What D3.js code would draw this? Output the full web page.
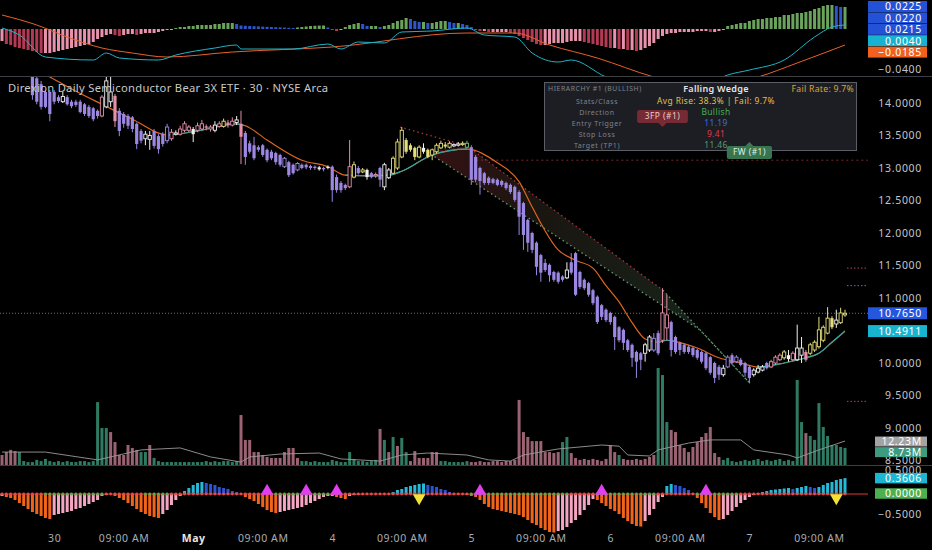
<!DOCTYPE html>
<html><head><meta charset="utf-8">
<script src="https://cdn.jsdelivr.net/npm/d3@7"></script>
<style>
html,body{margin:0;background:#000;}
svg{display:block;font-family:"Noto Sans",Roboto,sans-serif;}
</style></head><body>
<svg id="c" width="932" height="550"></svg>
<script>
// ---------- DATA ----------
const title = "Direxion Daily Semiconductor Bear 3X ETF · 30 · NYSE Arca";
const tickIdx = [12,28,44,60,76,92,108,124,140,156,172,188];
const tickLabels = ["30","09:00 AM","May","09:00 AM","4","09:00 AM","5","09:00 AM","6","09:00 AM","7","09:00 AM"];
const priceTicks = [14,13.5,13,12.5,12,11.5,11,10,9.5,9,8.5];

const opens = [14.62,14.58,14.60,14.52,14.56,14.50,14.54,14.46,14.38,14.29,
14.17,14.17,14.17,14.09,14.02,14.09,14.02,14.02,14.02,13.98,
13.94,13.92,13.88,13.80,13.94,14.02,14.11,13.88,13.83,13.80,
13.78,13.68,13.57,13.45,13.44,13.57,13.49,13.52,13.42,13.45,
13.52,13.52,13.58,13.58,13.60,13.58,13.60,13.64,13.60,13.58,
13.64,13.64,13.70,13.66,13.70,13.68,13.54,13.38,13.35,13.32,
13.35,13.28,13.25,13.23,13.20,13.02,13.09,13.05,12.97,13.05,
13.05,13.03,13.02,13.01,13.00,13.02,13.02,12.86,12.77,12.74,
12.71,12.86,13.00,12.94,12.97,12.92,12.88,13.00,12.71,12.85,
12.92,13.00,13.17,13.43,13.35,13.31,13.17,13.31,13.28,13.20,
13.25,13.31,13.36,13.32,13.34,13.35,13.36,13.32,13.32,13.17,
13.00,12.92,12.85,12.83,12.82,12.80,12.77,12.74,12.71,12.63,
12.46,12.20,12.00,11.85,11.66,11.54,11.51,11.40,11.39,11.33,
11.31,11.55,11.69,11.40,11.28,11.23,11.12,11.02,10.89,10.82,
10.77,10.71,10.55,10.51,10.35,10.28,10.17,10.15,10.15,10.20,
10.20,10.46,10.35,10.54,10.63,10.40,10.31,10.28,10.25,10.23,
10.20,10.17,10.15,10.09,10.00,9.94,9.82,9.94,10.12,10.02,
10.05,10.00,9.94,9.82,9.86,9.89,10.00,9.94,10.00,10.05,
10.08,10.12,10.05,10.05,10.12,10.17,10.15,10.20,10.25,10.35,
10.46,10.69,10.60,10.62,10.74];
const highs = [14.70,14.66,14.66,14.62,14.64,14.58,14.58,14.50,14.44,14.34,
14.20,14.20,14.20,14.12,14.17,14.12,14.05,14.05,14.05,14.00,
13.97,13.94,13.90,14.12,14.40,14.40,14.14,13.92,13.86,13.83,
13.80,13.70,13.60,13.57,13.57,13.60,13.52,13.55,13.68,13.60,
13.58,13.65,13.72,13.66,13.63,13.70,13.74,13.67,13.66,13.72,
13.72,13.76,13.74,13.78,13.80,13.88,13.57,13.42,13.48,13.35,
13.37,13.30,13.28,13.25,13.22,13.17,13.11,13.07,13.09,13.07,
13.07,13.05,13.04,13.03,13.02,13.04,13.04,12.90,12.80,12.76,
13.43,13.10,13.03,13.00,12.99,12.94,12.93,13.02,13.08,13.00,
13.18,13.45,13.63,13.46,13.38,13.33,13.35,13.38,13.30,13.30,
13.38,13.42,13.40,13.41,13.38,13.40,13.41,13.42,13.35,13.20,
13.02,12.94,12.87,12.85,12.84,12.82,12.79,12.76,12.73,12.66,
12.48,12.22,12.02,11.87,11.68,11.60,11.53,11.42,11.41,11.35,
11.55,11.69,11.71,11.42,11.30,11.25,11.14,11.04,10.91,10.84,
10.79,10.73,10.57,10.53,10.37,10.30,10.19,10.17,10.31,10.43,
10.46,10.50,11.15,11.05,10.65,10.42,10.33,10.30,10.27,10.25,
10.22,10.19,10.17,10.11,10.02,9.97,9.97,10.12,10.15,10.12,
10.08,10.02,9.97,9.92,9.97,9.97,10.02,10.05,10.12,10.15,
10.20,10.20,10.18,10.59,10.40,10.20,10.31,10.35,10.71,10.58,
10.86,10.72,10.82,10.85,10.82];
const lows = [14.55,14.50,14.44,14.42,14.43,14.46,14.44,14.05,13.98,13.90,
13.92,13.72,13.98,14.00,14.00,13.96,13.92,13.94,13.84,13.80,
13.77,13.72,13.76,13.78,13.92,13.94,13.63,13.49,13.62,13.60,
13.55,13.29,13.38,13.35,13.28,13.30,13.22,13.33,13.38,13.42,
13.50,13.50,13.55,13.55,13.40,13.55,13.58,13.58,13.56,13.55,
13.62,13.62,13.62,13.64,13.66,13.06,13.05,13.22,13.12,13.25,
13.17,13.09,13.12,13.05,13.02,13.00,12.86,12.90,12.95,12.98,
12.98,12.97,12.97,12.96,12.95,12.98,12.48,12.62,12.62,12.66,
12.69,12.84,12.90,12.92,12.82,12.84,12.85,12.71,12.66,12.83,
12.90,12.97,13.15,13.22,13.25,13.12,13.15,13.22,13.15,13.12,
13.22,13.29,13.30,13.30,13.32,13.33,13.34,13.30,12.74,12.78,
12.59,12.74,12.74,12.75,12.72,12.71,12.66,12.60,12.48,11.97,
11.74,11.71,11.69,11.35,11.25,11.40,11.25,11.25,11.22,11.25,
11.29,11.36,11.03,11.14,11.12,11.02,10.89,10.60,10.66,10.63,
10.59,10.20,10.32,10.20,10.17,9.94,9.77,9.89,10.02,10.17,
10.17,10.12,10.31,10.35,10.10,10.14,10.12,10.14,10.14,10.09,
10.05,9.99,9.89,9.82,9.69,9.74,9.79,9.92,9.97,10.00,
9.95,9.79,9.69,9.79,9.84,9.87,9.90,9.92,9.97,10.03,
10.05,10.02,10.03,10.03,10.00,10.02,10.12,10.17,10.22,10.32,
10.44,10.52,10.54,10.60,10.71];
const closes = [14.58,14.60,14.52,14.56,14.50,14.54,14.48,14.12,14.02,13.94,
13.94,13.83,14.02,14.03,14.10,13.98,13.95,13.97,13.86,13.83,
13.80,13.75,13.80,14.09,14.34,14.17,13.72,13.57,13.68,13.65,
13.60,13.37,13.42,13.52,13.50,13.34,13.29,13.37,13.63,13.55,
13.54,13.60,13.68,13.63,13.52,13.65,13.68,13.62,13.63,13.66,
13.68,13.72,13.66,13.72,13.74,13.48,13.17,13.25,13.15,13.28,
13.20,13.12,13.15,13.09,13.05,13.15,12.89,12.92,13.07,13.00,
13.01,13.00,13.00,12.98,12.98,13.00,12.66,12.66,12.66,12.69,
13.02,13.05,12.92,12.97,12.86,12.86,12.90,12.82,13.05,12.97,
13.15,13.40,13.58,13.25,13.28,13.17,13.32,13.25,13.17,13.28,
13.35,13.38,13.33,13.38,13.36,13.37,13.38,13.38,12.82,12.82,
12.80,12.77,12.77,12.77,12.74,12.74,12.69,12.63,12.51,12.25,
11.97,11.85,11.74,11.48,11.39,11.43,11.35,11.28,11.25,11.28,
11.43,11.39,11.05,11.17,11.15,11.05,10.92,10.63,10.71,10.66,
10.63,10.40,10.35,10.31,10.20,10.08,10.02,10.05,10.28,10.40,
10.38,10.15,10.77,10.74,10.20,10.17,10.20,10.17,10.17,10.12,
10.08,10.02,9.92,9.85,9.77,9.82,9.92,10.09,10.00,10.09,
9.97,9.85,9.77,9.89,9.92,9.94,9.92,10.02,10.09,10.12,
10.17,10.06,10.15,10.23,10.23,10.05,10.28,10.32,10.51,10.55,
10.69,10.55,10.66,10.77,10.765];
// candle tone: P purple, Y yellow, K pink, W white, G green
const candleTone = ("P".repeat(14)+"W"+"P".repeat(8)+"K"+"WW"+"K"+"P".repeat(6)+"WW"+"PPPP"+"KWKKKW"+"KKKK"+"WKYKKW"+"K"+
  "P".repeat(17)+"WPW"+"PPPP"+"KYPYWPKPWW"+"YYYYYYY"+"W"+"YYYYYY"+"WWYG"+"P".repeat(22)+"W"+"P".repeat(17)+
  "WWPPKK"+"P".repeat(12)+"W"+"PPPPPP"+"WWW"+"PKKKYWKWWK"+"YYYYYY"+"WYY").split("");

// trend line (price) with bullish ranges
const trendPts = [[0,14.80],[11,14.40],[17,14.18],[23,13.98],[30,13.75],[38,13.51],[45,13.57],[54,13.68],[56,13.65],[61,13.43],[69,13.12],[75,13.02],[79,12.89],[85,12.88],[89,12.89],[92,12.95],[99,13.20],[107,13.29],[114,13.08],[119,12.79],[122,12.40],[128,11.74],[132,11.58],[136,11.46],[139,11.19],[142,10.94],[145,10.62],[148,10.37],[151,10.32],[153,10.35],[155,10.33],[160,10.23],[165,10.08],[170,10.00],[174,9.94],[180,10.00],[185,10.08],[188,10.15],[191,10.32],[194,10.4911]];
const bullRanges = [[38,56],[79,107],[151,155],[174,194]];

// volume (millions) and colour flag
const volume = [5.1,6.6,7.7,7.1,6.6,2.0,1.5,1.5,2.6,2.0,
3.1,2.0,1.5,2.0,1.5,2.0,1.5,1.5,2.0,2.0,
1.5,2.0,32.1,18.9,18.9,16.8,11.7,5.1,5.1,10.2,
8.7,7.7,6.6,6.6,10.2,3.6,2.0,1.5,1.5,1.5,
1.5,1.5,1.5,1.5,1.5,1.5,1.5,2.0,1.5,2.0,
1.5,2.0,2.0,1.5,2.0,25.5,12.8,12.8,6.6,6.6,
5.1,4.1,3.6,3.6,3.6,6.6,8.7,8.7,3.6,2.0,
2.0,1.5,2.0,1.5,1.5,1.5,2.6,2.0,1.5,1.5,
6.6,3.1,2.0,2.0,1.5,2.0,2.6,18.4,12.8,6.6,
14.3,9.7,13.8,6.6,2.0,7.1,3.6,3.6,3.6,6.6,
6.6,2.0,2.0,1.5,1.5,1.5,1.5,2.0,1.5,1.5,
2.0,1.5,1.5,2.0,2.0,1.5,2.0,2.0,2.6,33.2,
16.8,14.3,12.2,12.2,12.2,6.6,6.6,6.1,6.6,11.7,
14.3,6.1,3.6,2.6,3.1,2.6,3.1,2.6,2.0,3.1,
10.2,6.6,5.1,3.1,2.6,2.6,3.1,2.6,3.1,4.1,
5.1,49.5,45.9,21.9,17.9,16.8,10.2,8.7,6.6,9.2,
11.7,14.3,16.3,19.4,6.1,4.1,2.6,3.6,2.0,1.5,
2.0,2.6,2.0,2.6,3.1,2.0,2.6,2.0,2.6,3.1,
2.0,2.6,2.0,43.4,21.9,16.3,14.8,12.8,31.6,19.4,
14.8,10.2,10.2,9.2,8.73];
const volTone = ("rrrr"+"g"+"g".repeat(17)+"ggg"+"r".repeat(7)+"gg"+"r"+"g".repeat(20)+"r".repeat(14)+"g".repeat(18)+
  "rgrgr"+"gg"+"r".repeat(7)+"g".repeat(7)+"r".repeat(21)+"gg"+"r".repeat(11)+"g"+"r".repeat(8)+"ggg"+"r".repeat(12)+
  "g".repeat(19)+"r"+"g".repeat(9)).split("");
const volMA = [[0,6.6],[10,6.6],[22,2.6],[32,7.7],[41,8.7],[48,4.1],[55,1.5],[57,4.1],[64,5.6],[73,6.1],[78,3.1],[87,2.0],[92,5.1],[98,6.1],[107,5.1],[112,2.6],[117,2.0],[120,5.1],[128,8.2],[138,10.2],[142,9.6],[144,5.1],[149,4.6],[151,7.7],[158,11.2],[163,12.8],[170,12.8],[173,7.7],[181,5.1],[183,3.6],[188,7.7],[194,12.23]];

// top pane: histogram, macd, signal
const macdHist = [-0.012,-0.015,-0.016,-0.018,-0.019,-0.020,-0.021,-0.022,-0.023,-0.024,
-0.024,-0.024,-0.023,-0.022,-0.021,-0.020,-0.019,-0.018,-0.017,-0.016,
-0.015,-0.013,-0.010,-0.008,-0.006,-0.005,-0.006,-0.007,-0.006,-0.005,
-0.005,-0.006,-0.005,-0.004,-0.004,-0.004,-0.003,-0.002,-0.001,-0.001,
0.001,0.002,0.002,0.003,0.003,0.004,0.004,0.004,0.004,0.005,
0.005,0.006,0.006,0.006,0.005,0.0035,0.0032,0.0030,0.0028,0.0026,
0.0024,0.0022,0.0020,0.0018,0.0016,0.0014,0.0012,0.0010,0.0015,0.002,
0.0025,0.003,0.0032,0.0034,0.0035,0.0015,-0.001,-0.002,-0.001,0.002,
0.004,0.005,0.006,0.005,0.003,0.003,0.003,0.002,0.003,0.004,
0.006,0.008,0.009,0.011,0.010,0.008,0.007,0.007,0.006,0.006,
0.007,0.008,0.008,0.007,0.006,0.006,0.005,0.004,0.002,-0.001,
-0.002,-0.002,-0.003,-0.003,-0.003,-0.003,-0.003,-0.004,-0.005,-0.007,
-0.009,-0.011,-0.013,-0.015,-0.016,-0.016,-0.015,-0.014,-0.014,-0.014,
-0.013,-0.012,-0.012,-0.012,-0.013,-0.014,-0.015,-0.016,-0.017,-0.018,
-0.019,-0.019,-0.020,-0.020,-0.021,-0.021,-0.022,-0.021,-0.019,-0.017,
-0.014,-0.010,-0.007,-0.005,-0.004,-0.004,-0.003,-0.003,-0.003,-0.003,
-0.002,-0.002,-0.002,-0.003,-0.003,-0.002,-0.001,0.003,0.004,0.005,
0.006,0.006,0.008,0.009,0.010,0.010,0.011,0.011,0.012,0.012,
0.014,0.014,0.015,0.016,0.016,0.017,0.018,0.020,0.021,0.023,
0.024,0.024,0.023,0.022,0.022];
const macdLine = [[0,0.001],[4,-0.006],[10,-0.028],[21,-0.031],[24,-0.024],[27,-0.029],[36,-0.031],[40,-0.026],[49,-0.019],[54,-0.016],[55,-0.020],[67,-0.020],[75,-0.015],[78,-0.020],[82,-0.013],[88,-0.014],[92,-0.003],[99,-0.002],[107,0.001],[111,-0.006],[118,-0.008],[122,-0.024],[128,-0.033],[131,-0.031],[139,-0.048],[147,-0.059],[156,-0.061],[163,-0.053],[167,-0.046],[172,-0.041],[180,-0.031],[187,-0.008],[191,0.002],[194,0.004]];
const signalLine = [[0,0.014],[8,0.004],[15,-0.008],[23,-0.019],[30,-0.024],[38,-0.028],[53,-0.023],[76,-0.018],[107,-0.004],[118,-0.004],[126,-0.016],[137,-0.029],[150,-0.048],[161,-0.059],[174,-0.048],[183,-0.034],[194,-0.016]];
const topTags = [["0.0225","#2452d6"],["0.0220","#2452d6"],["0.0215","#2452d6"],["0.0040","#17b2cf"],["−0.0185","#f0601e"]];
const topTagVals = [0.0225,0.0220,0.0215,0.0040,-0.0185];

// bottom oscillator
const osc = [-0.045,-0.068,-0.091,-0.136,-0.205,-0.273,-0.341,-0.409,-0.455,-0.5,
-0.545,-0.568,-0.477,-0.455,-0.432,-0.409,-0.386,-0.341,-0.318,-0.273,
-0.227,-0.182,-0.136,-0.045,-0.023,0,-0.045,-0.091,-0.136,-0.205,
-0.273,-0.341,-0.409,-0.455,-0.5,-0.523,-0.545,-0.455,-0.364,-0.25,
-0.136,-0.045,0.068,0.136,0.205,0.25,0.273,0.25,0.227,0.205,
0.159,0.136,0.114,0.068,0.045,0,-0.068,-0.114,-0.159,-0.227,
-0.295,-0.364,-0.409,-0.432,-0.409,-0.386,-0.364,-0.341,-0.318,-0.295,
-0.25,-0.205,-0.159,-0.114,-0.068,-0.045,-0.045,-0.068,-0.091,-0.114,
-0.045,-0.023,-0.011,-0.007,0,0,0,0,0,0,
0.045,0.091,0.114,0.159,0.182,0.205,0.227,0.239,0.205,0.182,
0.159,0.114,0.091,0.045,0.023,0,0,-0.023,-0.045,-0.068,
-0.136,-0.227,-0.295,-0.341,-0.364,-0.386,-0.409,-0.432,-0.455,-0.477,
-0.523,-0.591,-0.659,-0.705,-0.773,-0.818,-0.864,-0.875,-0.841,-0.818,
-0.75,-0.659,-0.591,-0.477,-0.364,-0.25,-0.114,-0.136,-0.205,-0.273,
-0.341,-0.386,-0.455,-0.545,-0.614,-0.682,-0.727,-0.739,-0.614,-0.477,
-0.341,-0.182,-0.068,0.182,0.227,0.205,0.182,0.136,0.091,0.023,
-0.091,-0.205,-0.318,-0.432,-0.523,-0.591,-0.568,-0.477,-0.386,-0.295,
-0.205,-0.136,-0.068,-0.023,0.023,0.045,0.068,0.091,0.102,0.114,
0.125,0.136,0.114,0.136,0.159,0.182,0.159,0.136,0.159,0.205,
0.25,0.273,0.318,0.341,0.3606];
const squeezeRanges = [[10,23],[33,38],[63,75],[108,130],[137,150],[160,169]];
const upSignals = [61,70,77,110,138,162];
const downSignals = [96,192];
const oscTicks = [0.5,-0.5];

// pattern
const wedgeUpperA = [[91.6,13.63],[107,13.34]];
const wedgeUpper = [[107,13.34],[152.1,11.12]];
const wedgeUpperB = [[152.1,11.12],[172.1,9.69]];
const wedgeLower = [[97.8,13.25],[160.6,10.51],[172.1,9.69]];
const stopLevelLine = {from:108, price:13.12};
const levels = [["target",11.46,"#b0475a"],["entry",11.19,"#5d74b5"],["stop",9.41,"#c43a4e"]];
const lastPrice = 10.765, trendLast = 10.4911;
const volMALast = 12.23, volLast = 8.73, oscLast = 0.3606;
const patternTags = [{text:"3FP (#1)", i:152, price:13.63, dir:"down", bg:"#7a2b36", fg:"#f1c9cf"},
                     {text:"FW (#1)", i:172, price:13.40, dir:"up", bg:"#3c7a55", fg:"#d8f2e2"}];
const tableHeader = ["HIERARCHY #1 (BULLISH)","Falling Wedge","Fail Rate: 9.7%"];
const tableRows = [["Stats/Class","Avg Rise: 38.3% | Fail: 9.7%","#e3c14a"],["Direction","Bullish","#4caf50"],["Entry Trigger","11.19","#3f6ee0"],["Stop Loss","9.41","#e2374f"],["Target (TP1)","11.46","#5a9c6c"]];

// ---------- DRAW ----------
const W=932,H=550,PR=868;
const svg=d3.select("#c");
svg.append("rect").attr("width",W).attr("height",H).attr("fill","#000");
const x=d3.scaleLinear().domain([0,194]).range([2,845]);
const yP=d3.scaleLinear().domain([9,14]).range([428,103]);
const yV=d3.scaleLinear().domain([0,10]).range([465,445.4]);
const yT=d3.scaleLinear().domain([0,-0.04]).range([29,69]);
const yO=d3.scaleLinear().domain([0,-0.5]).range([494,516]);
const defs=svg.append("defs");
function clip(id,y0,y1,w){defs.append("clipPath").attr("id",id).append("rect").attr("x",0).attr("y",y0).attr("width",w||PR).attr("height",y1-y0);}
clip("cTop",0,76);clip("cMain",77,465);clip("cBot",466,536);clip("cAxM",77,465,W);
const toneCol={P:"#9c87e2",Y:"#e4de7a",K:"#e58ea7",W:"#f0f0f0",G:"#6cbf73"};
const N=closes.length;
const idx=d3.range(N);

// ---- top pane
const gT=svg.append("g").attr("clip-path","url(#cTop)");
gT.selectAll("rect.h").data(idx).join("rect")
 .attr("x",i=>x(i)-1.5).attr("width",3)
 .attr("y",i=>Math.min(yT(macdHist[i]),yT(0))).attr("height",i=>Math.max(0.6,Math.abs(yT(macdHist[i])-yT(0))))
 .attr("fill",i=>{const v=macdHist[i],p=i>0?macdHist[i-1]:v; if(v>=0) return v>=p?"#6aa35c":"#2f56c8"; return v<p?"#b23a55":"#e892ad";});
const lineT=d3.line().x(d=>x(d[0])).y(d=>yT(d[1])).curve(d3.curveMonotoneX);
gT.append("path").attr("d",lineT(signalLine)).attr("fill","none").attr("stroke","#e8622a").attr("stroke-width",1);
gT.append("path").attr("d",lineT(macdLine)).attr("fill","none").attr("stroke","#1fb3c8").attr("stroke-width",1);

// ---- main pane
const gM=svg.append("g").attr("clip-path","url(#cMain)");
const grad=defs.append("linearGradient").attr("id","wg").attr("gradientUnits","userSpaceOnUse")
 .attr("x1",x(98)).attr("x2",x(172)).attr("y1",0).attr("y2",0);
grad.append("stop").attr("offset","0").attr("stop-color","rgba(130,40,45,0.42)");
grad.append("stop").attr("offset","0.35").attr("stop-color","rgba(70,60,45,0.36)");
grad.append("stop").attr("offset","1").attr("stop-color","rgba(55,95,70,0.42)");
const band=[...wedgeUpper, wedgeUpperB[1], ...wedgeLower.slice(0,2).reverse()];
gM.append("path").attr("d",d3.line().x(d=>x(d[0])).y(d=>yP(d[1]))(band)+"Z").attr("fill","url(#wg)");
const lineP=d3.line().x(d=>x(d[0])).y(d=>yP(d[1]));
gM.append("path").attr("d",lineP(wedgeUpperA)).attr("stroke","#a8323f").attr("stroke-width",1.3).attr("stroke-dasharray","1.5,3").attr("fill","none");
gM.append("path").attr("d",lineP(wedgeUpper)).attr("stroke","#a8323f").attr("stroke-width",1.3).attr("stroke-dasharray","1.5,3").attr("fill","none");
gM.append("path").attr("d",lineP(wedgeUpperB)).attr("stroke","#5f9c6e").attr("stroke-width",1.3).attr("stroke-dasharray","1.5,3").attr("fill","none");
gM.append("path").attr("d",lineP(wedgeLower)).attr("stroke","#5f9c6e").attr("stroke-width",1.3).attr("stroke-dasharray","1.5,3").attr("fill","none");
gM.append("line").attr("x1",x(stopLevelLine.from)).attr("x2",PR).attr("y1",yP(stopLevelLine.price)).attr("y2",yP(stopLevelLine.price))
 .attr("stroke","#7d2632").attr("stroke-dasharray","2,3");
gM.append("line").attr("x1",0).attr("x2",PR).attr("y1",yP(lastPrice)).attr("y2",yP(lastPrice))
 .attr("stroke","#8a8e96").attr("stroke-width",0.8).attr("stroke-dasharray","1,2");
levels.forEach(l=>gM.append("line").attr("x1",x(194)+2).attr("x2",PR).attr("y1",yP(l[1])).attr("y2",yP(l[1]))
 .attr("stroke",l[2]).attr("stroke-dasharray","1.5,2"));
// volume
gM.selectAll("rect.v").data(idx).join("rect")
 .attr("x",i=>x(i)-1.5).attr("width",3).attr("y",i=>yV(volume[i])).attr("height",i=>yV(0)-yV(volume[i]))
 .attr("fill",i=>volTone[i]==="g"?"#2f7a62":"#9a6273");
gM.append("path").attr("d",d3.line().x(d=>x(d[0])).y(d=>yV(d[1]))(volMA)).attr("fill","none").attr("stroke","#9a9a9a").attr("stroke-width",0.9);
// trend line
const trendPath=d3.line().x(d=>x(d[0])).y(d=>yP(d[1])).curve(d3.curveMonotoneX)(trendPts);
gM.append("path").attr("d",trendPath).attr("fill","none").attr("stroke","#e0661f").attr("stroke-width",1.2);
bullRanges.forEach((r,k)=>{
  defs.append("clipPath").attr("id","br"+k).append("rect").attr("x",x(r[0])).attr("width",x(r[1])-x(r[0])).attr("y",0).attr("height",H);
  gM.append("g").attr("clip-path","url(#br"+k+")").append("path").attr("d",trendPath).attr("fill","none").attr("stroke","#20a7a8").attr("stroke-width",1.2);
});
// candles
const gc=gM.selectAll("g.cd").data(idx).join("g");
gc.append("line").attr("x1",i=>x(i)).attr("x2",i=>x(i)).attr("y1",i=>yP(highs[i])).attr("y2",i=>yP(lows[i]))
 .attr("stroke",i=>toneCol[candleTone[i]]).attr("stroke-width",1);
gc.append("rect").attr("x",i=>x(i)-1.6).attr("width",3.2)
 .attr("y",i=>yP(Math.max(opens[i],closes[i]))).attr("height",i=>Math.max(1,Math.abs(yP(opens[i])-yP(closes[i]))))
 .attr("fill",i=>closes[i]>opens[i]?"#000":toneCol[candleTone[i]])
 .attr("stroke",i=>closes[i]>opens[i]?toneCol[candleTone[i]]:"none").attr("stroke-width",0.9);

// title
svg.append("text").attr("x",8).attr("y",92).text(title).attr("fill","#c9c9c9").attr("font-size",11.2).attr("letter-spacing",0.3);

// info table
const tb=svg.append("g");
tb.append("rect").attr("x",544.5).attr("y",82.5).attr("width",312).attr("height",68).attr("fill","rgba(30,32,38,0.93)").attr("stroke","#5b5e66");
tb.append("text").attr("x",548).attr("y",91).text(tableHeader[0]).attr("fill","#7f828b").attr("font-size",6.8).attr("letter-spacing",0.6);
tb.append("text").attr("x",716).attr("y",91.5).attr("text-anchor","middle").text(tableHeader[1]).attr("fill","#e6e6e6").attr("font-size",9).attr("font-weight",600).attr("letter-spacing",0.3);
tb.append("text").attr("x",854).attr("y",91.5).attr("text-anchor","end").text(tableHeader[2]).attr("fill","#e0a22c").attr("font-size",8.6).attr("letter-spacing",0.3);
tableRows.forEach((r,k)=>{
  const yy=103.5+k*11.2;
  tb.append("text").attr("x",597).attr("y",yy).attr("text-anchor","middle").text(r[0]).attr("fill","#80838c").attr("font-size",7).attr("letter-spacing",0.6);
  tb.append("text").attr("x",716).attr("y",yy).attr("text-anchor","middle").text(r[1]).attr("fill",r[2]).attr("font-size",8.4).attr("letter-spacing",0.4);
});
// pattern tags
patternTags.forEach(t=>{
  const cx=x(t.i), py=yP(t.price), w=t.text.length*5.6+6, h=13;
  const y0=t.dir==="down"? py-4-h : py+4;
  const g=svg.append("g");
  g.append("rect").attr("x",cx-w/2).attr("y",y0).attr("width",w).attr("height",h).attr("rx",2).attr("fill",t.bg).attr("opacity",0.95);
  const tri=t.dir==="down"?[[cx-4,py-4],[cx+4,py-4],[cx,py]]:[[cx-4,py+4],[cx+4,py+4],[cx,py]];
  g.append("path").attr("d","M"+tri.join("L")+"Z").attr("fill",t.bg);
  g.append("text").attr("x",cx).attr("y",y0+9.3).attr("text-anchor","middle").text(t.text).attr("fill",t.fg).attr("font-size",8.4).attr("letter-spacing",0.5);
});

// ---- bottom pane
const gB=svg.append("g").attr("clip-path","url(#cBot)");
gB.append("line").attr("x1",0).attr("x2",PR).attr("y1",yO(0)).attr("y2",yO(0)).attr("stroke","#e53935").attr("stroke-width",1);
gB.selectAll("rect.o").data(idx).join("rect")
 .attr("x",i=>x(i)-1.5).attr("width",3)
 .attr("y",i=>Math.min(yO(osc[i]),yO(0))).attr("height",i=>Math.abs(yO(osc[i])-yO(0)))
 .attr("fill",i=>{const v=osc[i],p=i>0?osc[i-1]:v; if(v>0) return v>=p?"#26b8d8":"#2b55d6"; return v<p?"#f2641a":"#f4a5c1";});
gB.selectAll("circle.z").data(idx).join("circle").attr("cx",i=>x(i)).attr("cy",yO(0)).attr("r",1.4)
 .attr("fill",i=>squeezeRanges.some(r=>i>=r[0]&&i<=r[1])?"#5fa84e":"#e84a4a");
gB.selectAll("path.up").data(upSignals).join("path")
 .attr("d",d3.symbol(d3.symbolTriangle,70)).attr("transform",i=>`translate(${x(i)},${yO(0)-3})`).attr("fill","#e03ff0");
gB.selectAll("path.dn").data(downSignals).join("path")
 .attr("d",d3.symbol(d3.symbolTriangle,70)).attr("transform",i=>`translate(${x(i)},${yO(0)+4}) rotate(180)`).attr("fill","#f2e234");

// separators
[76.5,465.5].forEach(yy=>svg.append("line").attr("x1",0).attr("x2",W).attr("y1",yy).attr("y2",yy).attr("stroke","#3c3f46").attr("stroke-width",1));

// ---- axes
const axFont=g=>{g.select(".domain").remove();g.selectAll("line").remove();
  g.selectAll("text").attr("fill","#c3c6cc").attr("font-size",10.5).attr("letter-spacing",0.7).attr("text-anchor","end").attr("x",54).attr("font-family","'Noto Sans',Roboto,sans-serif");};
svg.append("g").attr("clip-path","url(#cAxM)").append("g").attr("transform",`translate(${PR},0)`).call(d3.axisRight(yP).tickValues(priceTicks).tickFormat(d3.format(".4f")).tickSize(0)).call(axFont);
svg.append("g").attr("transform",`translate(${PR},0)`).call(d3.axisRight(yT).tickValues([-0.04]).tickFormat(d=>"−"+d3.format(".4f")(-d)).tickSize(0)).call(axFont);
svg.append("g").attr("transform",`translate(${PR},-2)`).call(d3.axisRight(yO).tickValues(oscTicks).tickFormat(d=>(d<0?"−":"")+d3.format(".4f")(Math.abs(d))).tickSize(0)).call(axFont);
const xAx=svg.append("g").attr("transform","translate(0,532)").call(d3.axisBottom(x).tickValues(tickIdx).tickFormat((d,k)=>tickLabels[k]).tickSize(0));
xAx.select(".domain").remove();
xAx.selectAll("text").attr("fill",(d,k)=>tickLabels[k]==="May"?"#e6e6e6":"#a9acb3").attr("font-weight",(d,k)=>tickLabels[k]==="May"?700:400)
 .attr("font-size",10.5).attr("letter-spacing",0.6).attr("font-family","'Noto Sans',Roboto,sans-serif");

// ---- value tags
function tag(yc,text,bg,x0,h){
  x0=x0||PR; h=h||11;
  const g=svg.append("g");
  g.append("rect").attr("x",x0).attr("y",yc-h/2).attr("width",W-5-x0).attr("height",h).attr("fill",bg);
  g.append("text").attr("x",922).attr("y",yc+3.8).attr("text-anchor","end").text(text).attr("fill","#fff").attr("font-size",10.5).attr("letter-spacing",0.7);
}
function stack(vals,scale,h){const out=[];let prev=-1e9;vals.forEach(v=>{let yy=scale(v);if(yy<prev+h)yy=prev+h;yy=Math.max(yy,6);out.push(yy);prev=yy;});return out;}
stack(topTagVals,yT,11.4).forEach((yy,k)=>tag(yy,topTags[k][0],topTags[k][1],PR,11));
tag(yP(lastPrice),d3.format(".4f")(lastPrice),"#2457de",PR,12);
tag(yP(trendLast),d3.format(".4f")(trendLast),"#18b3cf",PR,12);
const vt=stack([volMALast,volLast],yV,10.6);
tag(vt[0]+0.5,volMALast.toFixed(2)+"M","#a3a3a3",875,10);
tag(vt[1]+0.5,volLast.toFixed(2)+"M","#3d9c80",875,10);
tag(yO(oscLast),d3.format(".4f")(oscLast),"#1cb5d2",875,10.5);
tag(yO(0)-0.5,"0.0000","#4caf50",875,10.5);
</script>
</body></html>
